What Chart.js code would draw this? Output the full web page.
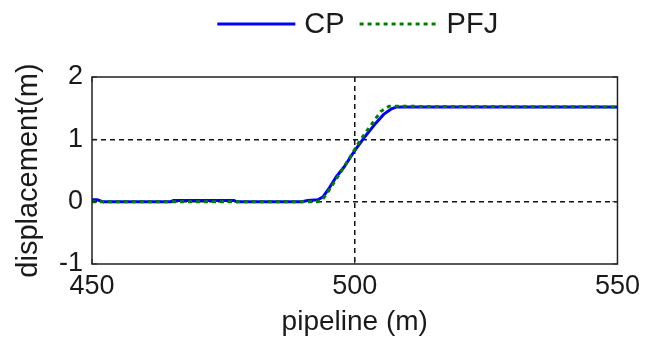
<!DOCTYPE html>
<html>
<head>
<meta charset="utf-8">
<script src="https://cdn.jsdelivr.net/npm/chart.js@4.4.1/dist/chart.umd.min.js"></script>
<style>
  html, body { margin: 0; padding: 0; background: #ffffff; }
  #wrap { width: 646px; height: 343px; }
</style>
</head>
<body>
<div id="wrap"><canvas id="chart" width="646" height="343"></canvas></div>
<script>
// pipeline position (m) and displacement (m) for each solution
const cpPosition = [450, 451, 452, 465, 465.5, 477, 477.5, 490, 491, 493, 494, 495, 496.5, 498, 500, 502, 504, 505.5, 507, 508, 550];
const cpDisplacement = [0.03, 0.03, 0, 0, 0.02, 0.02, 0, 0, 0.02, 0.03, 0.08, 0.2, 0.4, 0.56, 0.82, 1.05, 1.26, 1.4, 1.49, 1.52, 1.52];

const pfjPosition = [450, 493, 494, 495, 497, 499, 501, 503, 505, 506.5, 550];
const pfjDisplacement = [0, 0, 0.05, 0.17, 0.43, 0.7, 0.98, 1.22, 1.45, 1.53, 1.52];

const xTicks = [450, 500, 550];
const yTicks = [-1, 0, 1, 2];

const FONT = 'Liberation Sans, Arial, sans-serif';
const TEXT = '#1a1a1a';

const toPoints = (xs, ys) => xs.map((x, i) => ({ x, y: ys[i] }));

// frame around the axes with short inward ticks, plus a line-style legend above
const frame = {
  id: 'frame',
  afterDraw(chart) {
    const { ctx, chartArea: a, scales } = chart;
    ctx.save();
    ctx.strokeStyle = '#222';
    ctx.lineWidth = 1.5;
    ctx.setLineDash([]);
    ctx.strokeRect(a.left, a.top, a.right - a.left, a.bottom - a.top);

    ctx.lineWidth = 1;
    const t = 5;
    xTicks.forEach(v => {
      const px = scales.x.getPixelForValue(v);
      ctx.beginPath();
      ctx.moveTo(px, a.bottom); ctx.lineTo(px, a.bottom - t);
      ctx.moveTo(px, a.top); ctx.lineTo(px, a.top + t);
      ctx.stroke();
    });
    yTicks.forEach(v => {
      const py = scales.y.getPixelForValue(v);
      ctx.beginPath();
      ctx.moveTo(a.left, py); ctx.lineTo(a.left + t, py);
      ctx.moveTo(a.right, py); ctx.lineTo(a.right - t, py);
      ctx.stroke();
    });

    // legend
    ctx.font = '29px ' + FONT;
    ctx.textBaseline = 'middle';
    ctx.fillStyle = TEXT;
    const items = chart.data.datasets.map(ds => ({ ds, w: ctx.measureText(ds.label).width }));
    const lineLen = 78, gap = 9, itemGap = 15;
    const total = items.reduce((s, it) => s + lineLen + gap + it.w, 0) + itemGap * (items.length - 1);
    let x = (a.left + a.right) / 2 + 3 - total / 2;
    const y = 24;
    items.forEach(it => {
      ctx.strokeStyle = it.ds.borderColor;
      ctx.lineWidth = it.ds.borderWidth;
      ctx.setLineDash(it.ds.borderDash || []);
      ctx.beginPath();
      ctx.moveTo(x, y); ctx.lineTo(x + lineLen, y);
      ctx.stroke();
      ctx.setLineDash([]);
      x += lineLen + gap;
      ctx.fillText(it.ds.label, x, y + 1);
      x += it.w + itemGap;
    });
    ctx.restore();
  }
};

new Chart(document.getElementById('chart'), {
  type: 'line',
  data: {
    datasets: [
      {
        label: 'CP',
        data: toPoints(cpPosition, cpDisplacement),
        borderColor: '#0000ff',
        borderWidth: 3,
        pointRadius: 0,
        tension: 0,
        order: 2,
      },
      {
        label: 'PFJ',
        data: toPoints(pfjPosition, pfjDisplacement),
        borderColor: '#008000',
        borderWidth: 3,
        borderDash: [4, 4],
        pointRadius: 0,
        tension: 0,
        order: 1,
      },
    ],
  },
  options: {
    responsive: false,
    animation: false,
    layout: { padding: { left: 0, right: 26, top: 77, bottom: 0 } },
    plugins: {
      legend: { display: false },
      tooltip: { enabled: false },
    },
    scales: {
      x: {
        type: 'linear',
        min: 450,
        max: 550,
        afterBuildTicks: (scale) => { scale.ticks = xTicks.map(v => ({ value: v })); },
        afterFit: (scale) => { scale.height = 79; },
        ticks: {
          color: TEXT,
          font: { family: FONT, size: 27 },
          padding: 6,
          maxRotation: 0,
        },
        grid: {
          drawTicks: false,
          color: (c) => (c.tick && c.tick.value === 500 ? '#111' : 'rgba(0,0,0,0)'),
          lineWidth: 1.5,
        },
        border: { display: false, dash: [5, 4] },
        title: {
          display: true,
          text: 'pipeline (m)',
          color: TEXT,
          font: { family: FONT, size: 28 },
          padding: { top: 0, bottom: 4 },
        },
      },
      y: {
        min: -1,
        max: 2,
        afterBuildTicks: (scale) => { scale.ticks = yTicks.map(v => ({ value: v })); },
        afterFit: (scale) => { scale.width = 92; },
        ticks: {
          color: TEXT,
          font: { family: FONT, size: 27 },
          padding: 9,
        },
        grid: {
          drawTicks: false,
          color: (c) => (c.tick && (c.tick.value === 0 || c.tick.value === 1) ? '#111' : 'rgba(0,0,0,0)'),
          lineWidth: 1.5,
        },
        border: { display: false, dash: [5, 4] },
        title: {
          display: true,
          text: 'displacement(m)',
          color: TEXT,
          font: { family: FONT, size: 29 },
          padding: { top: 12, bottom: 0 },
        },
      },
    },
  },
  plugins: [frame],
});
</script>
</body>
</html>
